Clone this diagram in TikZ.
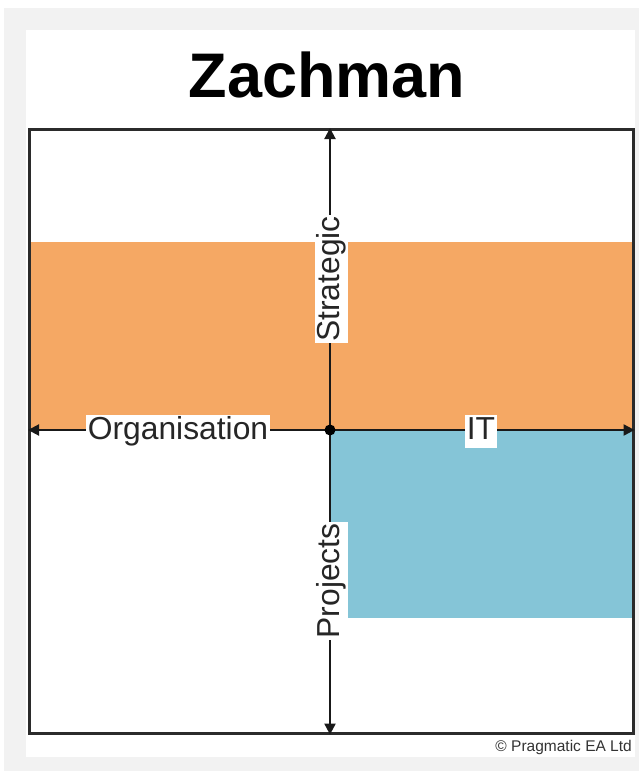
\documentclass[tikz,border=0pt]{standalone}
\usepackage{fontspec}
\setmainfont{Liberation Sans}
\usetikzlibrary{arrows.meta}
\definecolor{bggray}{HTML}{F2F2F2}
\definecolor{bandorange}{HTML}{F5A864}
\definecolor{bandblue}{HTML}{85C5D7}
\definecolor{framegray}{HTML}{2B2B2B}
\tikzset{
  axis/.style={draw=black!90, line width=2pt, -{Triangle[length=11pt,width=11pt]}},
  axislabel/.style={fill=white, inner sep=1.5pt, text height=23pt, text depth=7.5pt,
    font=\fontsize{31.8}{32}\selectfont, text=black!85},
  frame/.style={draw=framegray, line width=2.6pt},
}
\begin{document}
\begin{tikzpicture}[x=1pt,y=-1pt]
\useasboundingbox (0,0) rectangle (639,771);
% backgrounds
\fill[bggray] (4,8) rectangle (639,771);
\fill[white] (26,30) rectangle (635,757);
% bands
\fill[bandorange] (28,242) rectangle (632,430);
\fill[bandblue] (330,430) rectangle (632,618);
% frame
\node[frame, minimum width=604pt, minimum height=604pt, inner sep=0pt, anchor=north west] (box) at (28,128) {};
% title
\node[anchor=base, font=\fontsize{63}{63}\selectfont\bfseries, inner sep=0pt] (title) at (327,97) {Zachman};
% axes
\coordinate (c) at (330,430);
\coordinate (l) at (box.west |- c);
\coordinate (r) at (box.east |- c);
\coordinate (t) at (c |- box.north);
\coordinate (b) at (c |- box.south);
\draw[axis] (c) -- (l);
\draw[axis] (c) -- (r);
\draw[axis] (c) -- (t);
\draw[axis] (c) -- (b);
\fill[black] (c) circle (5.5pt);
% labels
\node[axislabel] (org) at (178,431.5) {Organisation};
\node[axislabel] (it) at (481,431.5) {IT};
\node[axislabel, rotate=90] (strat) at (331.5,279) {Strategic};
\node[axislabel, rotate=90] (proj) at (331.5,581) {Projects};
% copyright
\node[anchor=base east, inner sep=0pt, font=\fontsize{15.5}{16}\selectfont, text=black!80] (copy) at (632,751) {© Pragmatic EA Ltd};
\end{tikzpicture}
\end{document}
